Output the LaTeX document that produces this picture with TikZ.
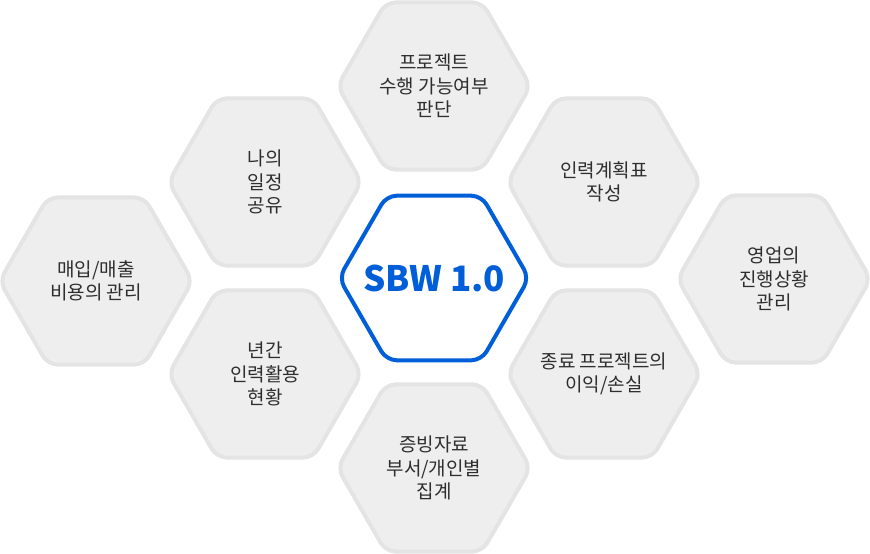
\documentclass[tikz,border=0pt]{standalone}
\usepackage{fontspec}
\setmainfont{Noto Sans CJK KR}
\usepackage{tikz}
\usetikzlibrary{shapes.geometric}
\definecolor{hexgray}{HTML}{EEEEEE}
\definecolor{hexline}{HTML}{E4E4E4}
\definecolor{sbwblue}{HTML}{005FD8}
\definecolor{hextext}{HTML}{2E2E2E}

\begin{document}
\begin{tikzpicture}[
  x=1pt, y=-1pt,
  cell/.style={regular polygon, regular polygon sides=6, minimum size=193pt, inner sep=0pt,
    rounded corners=10pt, line width=4pt, draw=hexline, fill=hexgray},
  celltext/.style={align=center, text=hextext, font=\fontsize{19}{23.5}\selectfont},
  hex/.style={cell, label={[celltext]center:{#1}}},
  core/.style={cell, minimum size=190pt, draw=sbwblue, fill=white},
  corelabel/.style={text=sbwblue, font=\fontsize{35}{40}\selectfont\bfseries}
]
  \useasboundingbox (0,0) rectangle (870,554);

  % Centre
  \node[core, label={[corelabel]center:SBW 1.0}] (sbw) at (434,278) {};

  % Middle column
  \node[hex={프로젝트\\수행 가능여부\\판단}] (feasible) at (434,86) {};
  \node[hex={증빙자료\\부서/개인별\\집계}] (evidence) at (434,468) {};

  % Inner left column
  \node[hex={나의\\일정\\공유}] (schedule) at (265,182) {};
  \node[hex={년간\\인력활용\\현황}] (yearly) at (265,374) {};

  % Inner right column
  \node[hex={인력계획표\\작성}] (staffplan) at (604,182) {};
  \node[hex={종료 프로젝트의\\이익/손실}] (closed) at (604,374) {};

  % Outer columns
  \node[hex={매입/매출\\비용의 관리}] (cost) at (96,281) {};
  \node[hex={영업의\\진행상황\\관리}] (sales) at (774,279) {};
\end{tikzpicture}
\end{document}
